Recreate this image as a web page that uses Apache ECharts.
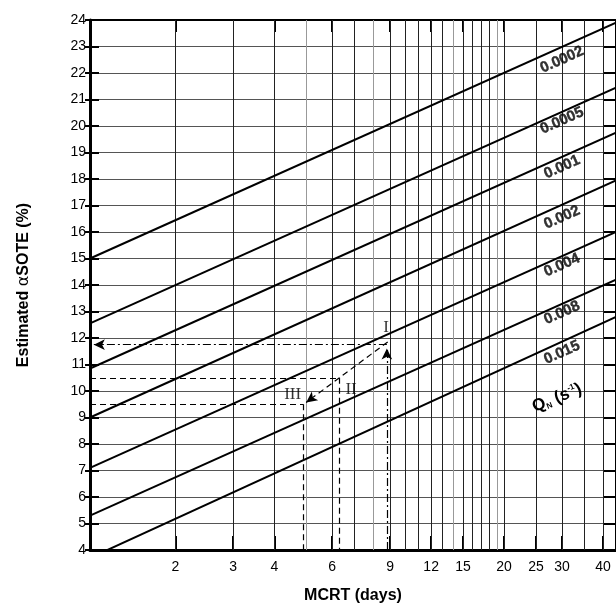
<!DOCTYPE html>
<html>
<head>
<meta charset="utf-8">
<script src="https://cdn.jsdelivr.net/npm/echarts@6/dist/echarts.min.js"></script>
<style>
  html, body { margin: 0; padding: 0; background: #fff; }
  #chart { width: 616px; height: 612px; }
</style>
</head>
<body>
<div id="chart"></div>
<script>
    // ---------- data ----------
    const xMin = 1.1;
    const xMax = 43.8;
    const xTickLabels = [2, 3, 4, 6, 9, 12, 15, 20, 25, 30, 40];
    const xGridDark = [2, 3, 4, 6, 7, 9, 10, 11, 12, 13, 15, 16, 17, 18, 20, 25, 30, 35, 40];
    const xGridLight = [5, 8, 14, 19];

    // Q_N lines (s^-1): estimated SOTE at left edge (xMin) and right edge (xMax)
    const qLabels = ['0.0002', '0.0005', '0.001', '0.002', '0.004', '0.008', '0.015'];
    const ySoteLeft = [15.0, 12.55, 10.85, 9.0, 7.1, 5.3, 3.7];
    const ySoteRight = [23.9, 21.45, 19.75, 17.95, 16.0, 14.2, 12.8];
    // where the Q_N values are written
    const qLabelX = 30;
    const qLabelY = [22.5, 20.2, 18.45, 16.55, 14.75, 12.95, 11.45];

    // worked example (I -> II -> III)
    const stepI = { mcrt: 8.8, sote: 11.75 };
    const stepII = { mcrt: 6.3, sote: 10.5 };
    const stepIII = { mcrt: 4.9, sote: 9.5 };

    const chart = echarts.init(document.getElementById('chart'));

    const lineSeries = qLabels.map((q, i) => ({
      name: q,
      type: 'line',
      data: [[xMin, ySoteLeft[i]], [xMax, ySoteRight[i]]],
      showSymbol: false,
      symbol: 'none',
      clip: true,
      silent: true,
      lineStyle: { color: '#000', width: 2 },
      z: 5
    }));

    const gridLines = [
      ...xGridDark.map(v => ({ xAxis: v, lineStyle: { color: '#222', width: 1, type: 'solid' } })),
      ...xGridLight.map(v => ({ xAxis: v, lineStyle: { color: '#999', width: 1, type: 'solid' } }))
    ];

    const dashDot = [8, 3, 2, 3];
    const dashed = [6, 4];
    const romanStyle = { fontFamily: 'Liberation Serif', fontSize: 17, color: '#000' };

    const annotation = {
      type: 'line',
      data: [],
      silent: true,
      markLine: {
        silent: true,
        symbol: 'none',
        label: { show: false },
        animation: false,
        data: [
          // I : dash-dot arrows
          [{ coord: [stepI.mcrt, 4], symbol: 'none' }, { coord: [stepI.mcrt, 11.6], symbol: 'arrow', symbolSize: [8, 11] }],
          [{ coord: [stepI.mcrt, stepI.sote], symbol: 'none' }, { coord: [1.13, stepI.sote], symbol: 'arrow', symbolSize: [8, 11] }],
          // I -> III dashed arrow
          [{ coord: [8.85, 11.85], symbol: 'none' }, { coord: [5.0, 9.57], symbol: 'arrow', symbolSize: [8, 11] }],
          // II and III readings
          [{ coord: [xMin, stepII.sote] }, { coord: [stepII.mcrt, stepII.sote] }],
          [{ coord: [stepII.mcrt, stepII.sote] }, { coord: [stepII.mcrt, 4] }],
          [{ coord: [xMin, stepIII.sote] }, { coord: [stepIII.mcrt, stepIII.sote] }],
          [{ coord: [stepIII.mcrt, stepIII.sote] }, { coord: [stepIII.mcrt, 4] }]
        ].map((d, i) => {
          const type = i < 2 ? dashDot : dashed;
          d[0].lineStyle = { color: '#000', width: 1.2, type: type };
          return d;
        })
      },
      z: 6
    };

    const grid = {
      type: 'line',
      data: [],
      silent: true,
      markLine: {
        silent: true,
        symbol: 'none',
        label: { show: false },
        animation: false,
        data: gridLines
      },
      z: 1
    };

    const labelSeries = {
      type: 'scatter',
      symbolSize: 0,
      silent: true,
      data: qLabels.map((q, i) => ({ value: [qLabelX, qLabelY[i]], name: q })),
      label: {
        show: true,
        position: 'inside',
        formatter: p => p.name,
        rotate: 24,
        fontFamily: 'Liberation Sans',
        fontWeight: 'bold',
        fontSize: 15,
        color: '#000',
        textBorderColor: '#000',
        textBorderWidth: 0.4
      },
      z: 7
    };

    const romanSeries = {
      type: 'scatter',
      symbolSize: 0,
      silent: true,
      data: [
        { value: [8.75, 12.4], name: 'I' },
        { value: [6.85, 10.05], name: 'II' },
        { value: [4.55, 9.85], name: 'III' }
      ],
      label: Object.assign({ show: true, position: 'inside', formatter: p => p.name }, romanStyle),
      z: 7
    };

    const axisFont = { fontFamily: 'Liberation Sans', fontSize: 14, color: '#000' };

    const option = {
      animation: false,
      backgroundColor: '#fff',
      grid: { left: 90, right: -4, top: 20, bottom: 62 },
      xAxis: [{
        type: 'log',
        min: xMin,
        max: xMax,
        position: 'bottom',
        name: 'MCRT (days)',
        nameLocation: 'middle',
        nameGap: 38,
        nameTextStyle: { fontFamily: 'Liberation Sans', fontWeight: 'bold', fontSize: 16, color: '#000' },
        axisLine: { show: true, lineStyle: { color: '#000', width: 3 } },
        axisTick: { show: true, inside: true, length: 14, customValues: xTickLabels, lineStyle: { color: '#000', width: 2 } },
        axisLabel: Object.assign({ customValues: xTickLabels, margin: 10, showMinLabel: true, showMaxLabel: true, hideOverlap: false }, axisFont),
        splitLine: { show: false },
        minorTick: { show: false }
      }, {
        type: 'log',
        min: xMin,
        max: xMax,
        position: 'top',
        axisLine: { show: true, lineStyle: { color: '#000', width: 2 } },
        axisTick: { show: true, inside: true, length: 12, customValues: [2, 4, 6, 9, 12, 15, 20, 30, 40], lineStyle: { color: '#000', width: 2 } },
        axisLabel: { show: false },
        splitLine: { show: false }
      }],
      yAxis: [{
        type: 'value',
        min: 4,
        max: 24,
        interval: 1,
        position: 'left',
        name: '{b|Estimated }{a|α}{b|SOTE (%)}',
        nameLocation: 'middle',
        nameGap: 58,
        nameTextStyle: {
          rich: {
            b: { fontFamily: 'Liberation Sans', fontWeight: 'bold', fontSize: 16, color: '#000' },
            a: { fontFamily: 'DejaVu Sans', fontWeight: 'normal', fontSize: 16, color: '#000' }
          }
        },
        axisLine: { show: true, lineStyle: { color: '#000', width: 3 } },
        axisTick: { show: true, inside: false, length: 5, lineStyle: { color: '#000', width: 2 } },
        axisLabel: Object.assign({ margin: 4 }, axisFont),
        splitLine: { show: true, lineStyle: { color: '#555', width: 1 } }
      }, {
        type: 'value',
        min: 4,
        max: 24,
        interval: 1,
        position: 'left',
        offset: 0,
        axisLine: { show: false },
        axisTick: { show: true, inside: true, length: 9, lineStyle: { color: '#000', width: 2 } },
        axisLabel: { show: false },
        splitLine: { show: false }
      }, {
        type: 'value',
        min: 4,
        max: 24,
        interval: 1,
        position: 'right',
        axisLine: { show: true, lineStyle: { color: '#000', width: 2 } },
        axisTick: { show: true, inside: true, length: 12, lineStyle: { color: '#000', width: 2 } },
        axisLabel: { show: false },
        splitLine: { show: false }
      }],
      graphic: [{
        type: 'text',
        x: 557,
        y: 398,
        rotation: 22 * Math.PI / 180,
        style: {
          text: '{q|Q}{s|N}{t| (s}{p|-1}{t|)}',
          align: 'center',
          verticalAlign: 'middle',
          rich: {
            q: { fontFamily: 'Liberation Sans', fontWeight: 'bold', fontSize: 17, fill: '#000' },
            s: { fontFamily: 'Liberation Sans', fontWeight: 'bold', fontSize: 8, fill: '#000', verticalAlign: 'bottom', padding: [8, 0, 0, 0] },
            t: { fontFamily: 'Liberation Sans', fontWeight: 'bold', fontSize: 17, fill: '#000' },
            p: { fontFamily: 'Liberation Sans', fontWeight: 'bold', fontSize: 8, fill: '#000', verticalAlign: 'top', padding: [0, 0, 8, 0] }
          }
        },
        z: 10
      }],
      series: [grid, ...lineSeries, annotation, labelSeries, romanSeries]
    };

    chart.setOption(option);
</script>
</body>
</html>
